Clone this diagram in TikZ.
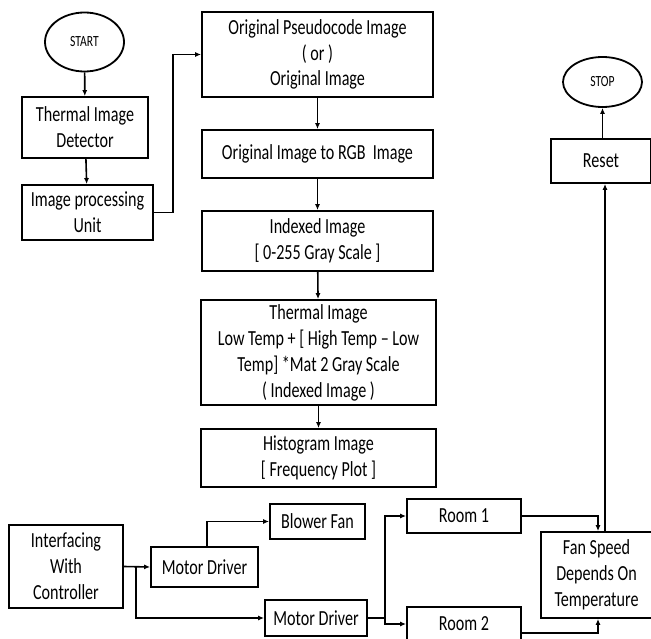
\documentclass[tikz,border=0pt]{standalone}
\usepackage{fontspec}
\setmainfont{Carlito}[FakeStretch=0.75]
\usetikzlibrary{arrows.meta, positioning, shapes.geometric, calc}
\tikzset{
  blk/.style={rectangle,draw=black,line width=1.8pt,fill=white,align=center,
    font=\fontsize{21.5}{26}\selectfont,inner sep=2pt},
  term/.style={ellipse,draw=black,line width=1.8pt,fill=white,align=center,
    font=\fontsize{15.5}{16}\selectfont,inner sep=0pt},
  ar/.style={-{Latex[length=6pt,width=5pt]},line width=1.6pt,draw=black}
}
\begin{document}
\begin{tikzpicture}[x=1pt,y=-1pt]
\useasboundingbox (0,0) rectangle (651,639);
% left column
\node[term,minimum width=79pt,minimum height=59pt] (start) at (84.5,42) {START};
\node[blk,minimum width=126pt,minimum height=61pt] (detect) at (85,127.5) {Thermal Image\\Detector};
\node[blk,minimum width=131pt,minimum height=55pt] (ipu) at (87.5,212.5) {Image processing\\Unit};
% middle column
\node[blk,minimum width=231pt,minimum height=85pt,font=\fontsize{21.5}{25.5}\selectfont] (orig) at (317.5,54.5) {Original Pseudocode Image\\( or )\\Original Image};
\node[blk,minimum width=231pt,minimum height=48pt] (rgb) at (317.5,154) {Original Image to RGB\ \ Image};
\node[blk,minimum width=231pt,minimum height=60pt] (indexed) at (317.5,241) {Indexed Image\\{[} 0-255 Gray Scale ]};
\node[blk,minimum width=235pt,minimum height=105pt] (thermal) at (318.5,352.5) {Thermal Image\\Low Temp + [ High Temp -- Low\\Temp] *Mat 2 Gray Scale\\( Indexed Image )};
\node[blk,minimum width=235pt,minimum height=58pt] (histo) at (318.5,458) {Histogram Image\\{[} Frequency Plot ]};
% right column
\node[term,minimum width=79pt,minimum height=50pt] (stop) at (602.5,82) {STOP};
\node[blk,minimum width=100pt,minimum height=44pt] (reset) at (601,161) {Reset};
% bottom row
\node[blk,minimum width=114pt,minimum height=83pt] (interf) at (66,566.5) {Interfacing\\With\\Controller};
\node[blk,minimum width=107pt,minimum height=40pt] (mdone) at (204.5,567) {Motor Driver};
\node[blk,minimum width=95pt,minimum height=35pt] (blower) at (317.5,521.5) {Blower Fan};
\node[blk,minimum width=102pt,minimum height=36pt] (mdtwo) at (316,618) {Motor Driver};
\node[blk,minimum width=114pt,minimum height=34pt] (roomone) at (464,516) {Room 1};
\node[blk,minimum width=114pt,minimum height=34pt] (roomtwo) at (464,624) {Room 2};
\node[blk,minimum width=111pt,minimum height=86pt] (fan) at (596.5,575) {Fan Speed\\Depends On\\Temperature};
% connectors
\draw[ar] (start) -- (detect);
\draw[ar] (detect) -- (ipu);
\draw[ar] (ipu.east) -- ++(19,0) |- (orig.west);
\draw[ar] (orig) -- (rgb);
\draw[ar] (rgb) -- (indexed);
\draw[ar] (indexed) -- (thermal);
\draw[ar] (thermal) -- (histo);
\coordinate (splitl) at (136,0);
\draw[ar] (interf.east) -- (mdone.west);
\draw[ar] (interf.east -| splitl) |- (mdtwo.west);
\draw[ar] ([xshift=2.5pt]mdone.north) |- (blower.west);
\coordinate (splitr) at (385,0);
\draw[ar] (mdtwo.east) -- (mdtwo.east -| splitr) |- (roomone.west);
\draw[ar] (mdtwo.east -| splitr) |- (roomtwo.west);
\draw[ar] (roomone.east) -| ([xshift=1.5pt]fan.north);
\draw[ar] ([yshift=-9pt]roomtwo.east) -| ([xshift=1.5pt]fan.south);
\draw[ar] ([xshift=8.5pt]fan.north) -- ([xshift=8.5pt]fan.north |- reset.south);
\draw[ar] (reset.north -| stop.south) -- (stop.south);
\end{tikzpicture}
\end{document}
